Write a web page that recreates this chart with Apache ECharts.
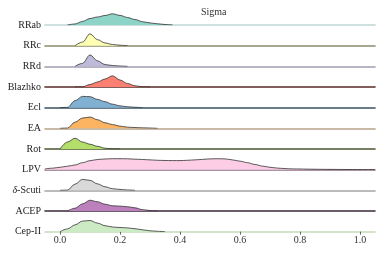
<!DOCTYPE html>
<html>
<head>
<meta charset="utf-8">
<script src="https://cdn.jsdelivr.net/npm/echarts@6/dist/echarts.min.js"></script>
<style>html,body{margin:0;padding:0;background:#fff;}#c{width:382px;height:254px;}</style>
</head>
<body>
<div id="c"></div>
<script>
const names = ['RRab','RRc','RRd','Blazhko','Ecl','EA','Rot','LPV','δ-Scuti','ACEP','Cep-II'];
const tickValues = [0, 0.2, 0.4, 0.6, 0.8, 1.0];
const xs = [-0.05,-0.025,0,0.025,0.05,0.075,0.1,0.125,0.15,0.175,0.2,0.225,0.25,0.275,0.3,0.325,0.35,0.375,0.4,0.425,0.45,0.475,0.5,0.525,0.55,0.575,0.6,0.625,0.65,0.675,0.7,0.725,0.75,0.775,0.8,0.825,0.85,0.875,0.9,0.925,0.95,0.975,1.0,1.025,1.05];
const rrab    = [0,0,0,0,1,3.6,6.5,8,9.5,11.2,9.6,7.5,5.5,3.3,2.1,1.2,0.5,0];
const rrc     = [0,0,0,0,0,3.5,11.8,6,2.7,1.2,0.4,0];
const rrd     = [0,0,0,0,0,3,11.4,5.5,1.8,0.8,0.3,0];
const blazhko = [0,0,0,0,0,0.2,2.5,5,8,11.2,7,3.5,1.2,0.3,0];
const ecl     = [0,0,0,0.3,7,11.3,11,8.3,6,3.5,1.8,0.9,0.4,0];
const ea      = [0,0,0,0.3,6.2,10.3,11.3,8.6,5.6,3.8,2.2,1.2,0.8,0.5,0.3,0];
const rot     = [0,0,0,7,10.8,7,4.8,2.7,0.8,0.2,0];
const lpv     = [0.8,1.5,2.4,3.5,4.7,7,9,10.2,10.7,11,11,10.9,10.5,10.2,9.8,9.4,9.2,9.1,9.1,9.4,9.8,10.3,10.8,11,10.8,9.8,8.5,7,5.2,3.6,2.4,1.6,1.1,0.8,0.7,0.55,0.45,0.35,0.3,0.25,0.2,0.15,0.12,0.1,0.08];
const dscuti  = [0,0,0,0.3,6.2,11,10,6.5,3.6,1.7,0.9,0.4,0];
const acep    = [0,0,0,0,2.8,7.2,10.8,9.3,6.8,5.3,4.9,4.3,3.2,1.4,0.5,0];
const cep2    = [0,0,0,2.8,6.8,10.6,11.2,8.6,6,4.7,4.2,3.8,3,1.9,0.9,0.4,0];
const densities = [rrab,rrc,rrd,blazhko,ecl,ea,rot,lpv,dscuti,acep,cep2];

const fills = ['#8dd3c7','#ffffb3','#bebada','#fb8072','#80b1d3','#fdb462','#b3de69','#fccde5','#d9d9d9','#bc80bd','#ccebc5'];
const baseColors = ['#c0d8d3','#8c8b6c','#a09cb0','#5a2a28','#3b5163','#b6a48a','#48552e','#8c7083','#a5a5a5','#3a2a3a','#c3dcbc'];
const FONT = 'Liberation Serif';

function toData(vals){
  let f = vals.findIndex(v => v > 0), l = vals.length - 1;
  while (l >= 0 && !(vals[l] > 0)) l--;
  const s = Math.max(0, f - 1), e = Math.min(vals.length - 1, l + 1);
  const out = [];
  for (let i = s; i <= e; i++) out.push([xs[i], vals[i]]);
  return out;
}

const n = names.length;
const grids = [], xAxes = [], yAxes = [], series = [];
for (let i = 0; i < n; i++) {
  const base = 25 + i * 20.67;
  const last = i === n - 1;
  grids.push({left: 45, right: 7, top: base - 20, height: 20});
  xAxes.push({
    type: 'value', gridIndex: i, min: -0.05, max: 1.05,
    splitLine: {show: false},
    axisLine: {show: true, lineStyle: {color: baseColors[i], width: 1.6}},
    axisTick: {show: last, customValues: tickValues, length: 3, lineStyle: {color: '#444', width: 0.8}},
    axisLabel: {show: last, customValues: tickValues, formatter: v => v.toFixed(1), fontFamily: FONT, fontSize: 10, color: '#333', margin: 4}
  });
  yAxes.push({
    type: 'value', gridIndex: i, min: 0, max: 20, interval: 20,
    axisLine: {show: false}, axisTick: {show: false}, splitLine: {show: false},
    axisLabel: {
      show: true, margin: 4, fontFamily: FONT, fontSize: 10, color: '#222',
      formatter: v => v === 0 ? (names[i].startsWith('δ') ? '{i|δ}' + names[i].slice(1) : names[i]) : '',
      rich: {i: {fontStyle: 'italic', fontFamily: FONT, fontSize: 10, color: '#222'}}
    }
  });
  series.push({
    type: 'line', xAxisIndex: i, yAxisIndex: i, name: names[i],
    data: toData(densities[i]), smooth: 0.35, smoothMonotone: 'x', symbol: 'none',
    lineStyle: {color: '#333', width: 0.8},
    areaStyle: {color: fills[i], opacity: 1},
    z: 3
  });
}

const chart = echarts.init(document.getElementById('c'), null, {renderer: 'canvas'});
chart.setOption({
  backgroundColor: '#fff',
  animation: false,
  title: {text: 'Sigma', left: 196, top: 2, textStyle: {fontFamily: FONT, fontSize: 10, fontWeight: 'normal', color: '#333'}},
  grid: grids, xAxis: xAxes, yAxis: yAxes, series: series
});
</script>
</body>
</html>
